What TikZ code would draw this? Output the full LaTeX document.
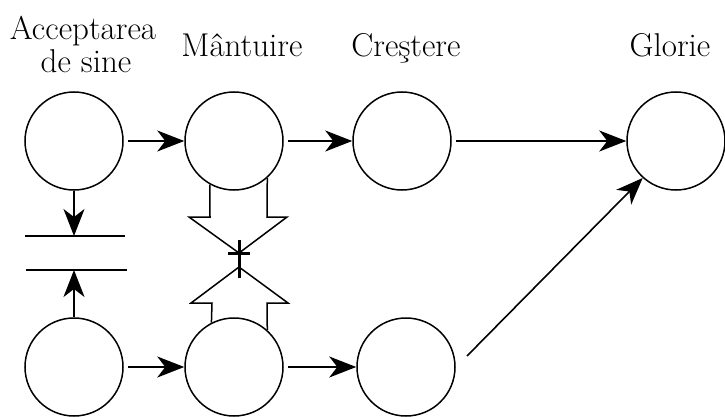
\documentclass[tikz,border=0pt]{standalone}
\usetikzlibrary{arrows.meta}
\begin{document}
\begin{tikzpicture}[x=1pt,y=-1pt,
  stage/.style={circle,draw,line width=1.5pt,minimum size=98pt,inner sep=0pt},
  lbl/.style={font=\fontsize{33}{36}\selectfont,anchor=base,inner sep=0pt,align=center},
  conn/.style={line width=1.6pt,-{Stealth[length=27pt,width=21pt,inset=8pt]}},
  bar/.style={line width=1.8pt},
  block/.style={line width=1.5pt,line join=miter},
  cross/.style={line width=3pt}]
\useasboundingbox (0,0) rectangle (725,417);
% labels
\node[lbl] (tA) at (83,40) {Acceptarea};
\node[lbl] (tA2) at (86,73) {de sine};
\node[lbl] (tM) at (242,57) {Mântuire};
\node[lbl] (tC) at (406,57) {Creştere};
\node[lbl] (tG) at (670,57) {Glorie};
% circles
\node[stage] (A) at (74,141) {};
\node[stage] (M) at (234,141) {};
\node[stage] (C) at (402,141) {};
\node[stage] (G) at (676,141) {};
\node[stage] (A2) at (74,367) {};
\node[stage] (M2) at (234,367) {};
\node[stage] (C2) at (406,367) {};
% horizontal arrows
\draw[conn,shorten <=4pt] (A) -- (M);
\draw[conn,shorten <=4pt] (M) -- (C);
\draw[conn,shorten <=4pt] (C) -- (G);
\draw[conn,shorten <=4pt] (A2) -- (M2);
\draw[conn,shorten <=4pt] (M2) -- (C2);
% diagonal
\coordinate (d0) at (467,356);
\draw[conn] (d0) -- (G.228);
% left bars
\coordinate (b1l) at (25,236);
\coordinate (b1r) at (125,236);
\coordinate (b2l) at (26,270);
\coordinate (b2r) at (127,270);
\coordinate (b1m) at (74,236);
\coordinate (b2m) at (74,270);
\draw[bar] (b1l) -- (b1r);
\draw[bar] (b2l) -- (b2r);
\draw[conn] (A) -- (b1m);
\draw[conn] (A2) -- (b2m);
% block arrows
\draw[block] (M.241) -- (210,217) -- (189,217) -- (239,253) -- (287,217) -- (267,217) -- (M.312);
\draw[block] (M2.117) -- (212,303) -- (191,303) -- (239,267) -- (288,303) -- (267,303) -- (M2.48);
% cross
\draw[cross] (239,240) -- (239,278);
\draw[cross] (228,253) -- (250,253);
\end{tikzpicture}
\end{document}
